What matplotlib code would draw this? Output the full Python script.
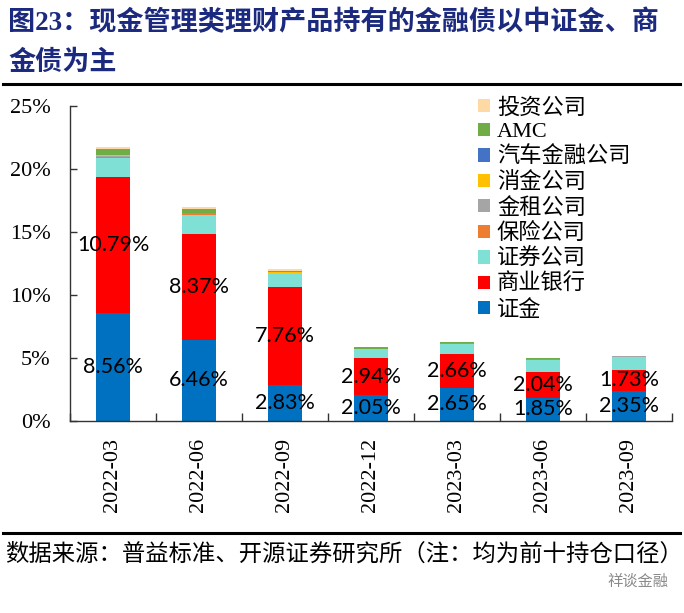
import matplotlib
matplotlib.use("Agg")
import matplotlib.pyplot as plt
from matplotlib.lines import Line2D
from matplotlib.patches import Patch
import numpy as np

categories = ['2022-03', '2022-06', '2022-09', '2022-12', '2023-03', '2023-06', '2023-09']
zhengjin = [8.56, 6.46, 2.83, 2.05, 2.65, 1.85, 2.35]      # 证金
shangye = [10.79, 8.37, 7.76, 2.94, 2.66, 2.04, 1.73]      # 商业银行
zhengquan = [1.47, 1.50, 1.13, 0.70, 0.82, 0.98, 1.00]     # 证券公司
baoxian = [0.13, 0.13, 0.03, 0.02, 0.02, 0.01, 0.01]       # 保险公司
jinzu = [0.10, 0.03, 0.02, 0.02, 0.05, 0.06, 0.05]         # 金租公司
xiaojin = [0.02, 0.01, 0.01, 0.00, 0.00, 0.00, 0.00]       # 消金公司
qiche = [0.02, 0.01, 0.01, 0.00, 0.00, 0.00, 0.05]         # 汽车金融公司
amc = [0.50, 0.32, 0.13, 0.13, 0.07, 0.06, 0.00]           # AMC
touzi = [0.12, 0.11, 0.15, 0.01, 0.01, 0.00, 0.00]         # 投资公司

series_names = ['证金', '商业银行', '证券公司', '保险公司', '金租公司', '消金公司', '汽车金融公司', 'AMC', '投资公司']
series_vals = [zhengjin, shangye, zhengquan, baoxian, jinzu, xiaojin, qiche, amc, touzi]
colors = ['#0070C0', '#FF0000', '#7FE0D6', '#ED7D31', '#A5A5A5', '#FFC000', '#4472C4', '#70AD47', '#FFD9A3']
yticks = [0, 5, 10, 15, 20, 25]

W, H = 684, 613
fig = plt.figure(figsize=(W / 100, H / 100), dpi=100)
ax = fig.add_axes([70 / W, 1 - 421 / H, (672 - 70) / W, (421 - 105.7) / H])

serif_cjk = ['Liberation Serif', 'Noto Sans CJK SC']
x = np.arange(len(categories))
bottom = np.zeros(len(categories))
for name, vals, c in zip(series_names, series_vals, colors):
    v = np.array(vals)
    ax.bar(x, v, 0.4, bottom=bottom, color=c, label=name, linewidth=0)
    if name in ('证金', '商业银行'):
        for xi, b, vi in zip(x, bottom, v):
            ax.text(xi, b + vi / 2, f'{vi:.2f}%', ha='center', va='center',
                    fontsize=15.5, family='Lato', color='black')
    bottom += v

ax.set_xlim(-0.5, 6.5)
ax.set_ylim(0, 25)
ax.set_yticks(yticks)
ax.set_yticklabels([f'{t}%' for t in yticks], family='Liberation Serif', fontsize=16)
ax.set_xticks(x)
ax.set_xticklabels(categories, rotation=90, family='Liberation Serif', fontsize=16)
ax.set_xticks(np.arange(-0.5, 7, 1), minor=True)
ax.tick_params(axis='x', which='major', length=0, pad=12)
ax.tick_params(axis='x', which='minor', direction='in', length=6, width=1, color='#333333')
ax.tick_params(axis='y', direction='in', length=5, width=1, color='#333333', pad=14)
for s in ['top', 'right']:
    ax.spines[s].set_visible(False)
for s in ['left', 'bottom']:
    ax.spines[s].set_color('#333333')
    ax.spines[s].set_linewidth(1)

handles = [Patch(facecolor=c, edgecolor='none') for c in colors][::-1]
labels = series_names[::-1]
leg = fig.legend(handles, labels, loc='upper left', bbox_to_anchor=(478 / W, 1 - 98 / H),
                 bbox_transform=fig.transFigure, frameon=False, borderpad=0, borderaxespad=0,
                 handlelength=0.55, handleheight=0.55, handletextpad=0.3, labelspacing=0.2,
                 prop={'family': serif_cjk, 'size': 16})

title_color = '#1B2A7E'
fig.text(8 / W, 1 - 23 / H, '图23：现金管理类理财产品持有的金融债以中证金、商', ha='left', va='center',
         fontsize=19.5, fontweight='bold', family=serif_cjk, color=title_color)
fig.text(8 / W, 1 - 63 / H, '金债为主', ha='left', va='center',
         fontsize=19.5, fontweight='bold', family=serif_cjk, color=title_color)
fig.add_artist(Line2D([3 / W, 680 / W], [1 - 84 / H, 1 - 84 / H], transform=fig.transFigure,
                      color='black', lw=2.2))
fig.add_artist(Line2D([3 / W, 680 / W], [1 - 533 / H, 1 - 533 / H], transform=fig.transFigure,
                      color='black', lw=2.2))
fig.text(5 / W, 1 - 554 / H, '数据来源：普益标准、开源证券研究所（注：均为前十持仓口径）', ha='left', va='center',
         fontsize=16.8, family=['Noto Sans CJK SC'], color='black')
fig.text(668 / W, 1 - 581 / H, '祥谈金融', ha='right', va='center',
         fontsize=11, family=['Noto Sans CJK SC'], color='#8a8a8a')

fig.savefig('out.png', dpi=100)
